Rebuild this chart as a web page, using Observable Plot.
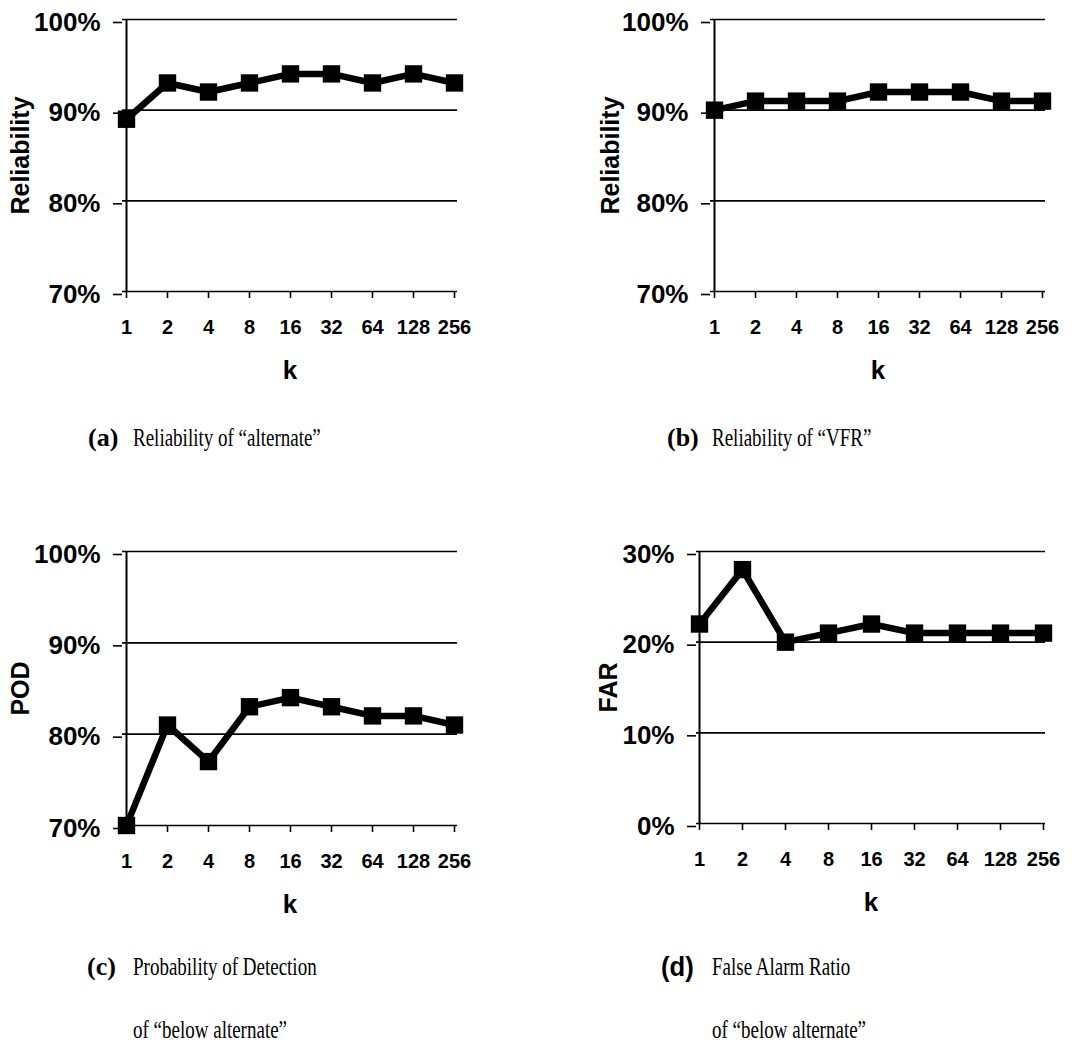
<!DOCTYPE html>
<html>
<head>
<meta charset="utf-8">
<script src="https://cdn.jsdelivr.net/npm/d3@7"></script>
<script src="https://cdn.jsdelivr.net/npm/@observablehq/plot@0.6"></script>
<style>
  body { margin: 0; background: white; }
  #page { position: relative; width: 1086px; height: 1059px; background: white; overflow: hidden; }
  .panel { position: absolute; }
  .cap { position: absolute; font-family: "Liberation Serif", "Times New Roman", serif; font-size: 25px; line-height: 1; white-space: pre; color: black; transform-origin: left center; }
  .cap.txt { transform: scaleX(0.76); }
  .cap.lab { font-weight: bold; font-size: 26px; }
  .cap.sans { font-family: "Liberation Sans", Arial, sans-serif; font-size: 27px; transform: scaleX(0.95); }
</style>
</head>
<body>
<div id="page"></div>
<script>
// ---- data ----
const ks = ["1", "2", "4", "8", "16", "32", "64", "128", "256"];
const reliabilityAlternate = [0.89, 0.93, 0.92, 0.93, 0.94, 0.94, 0.93, 0.94, 0.93];
const reliabilityVFR = [0.90, 0.91, 0.91, 0.91, 0.92, 0.92, 0.92, 0.91, 0.91];
const podBelowAlternate = [0.70, 0.81, 0.77, 0.83, 0.84, 0.83, 0.82, 0.82, 0.81];
const farBelowAlternate = [0.22, 0.28, 0.20, 0.21, 0.22, 0.21, 0.21, 0.21, 0.21];
const ticksHigh = [0.7, 0.8, 0.9, 1.0];
const ticksLow = [0.0, 0.1, 0.2, 0.3];
const yLabels = ["Reliability", "Reliability", "POD", "FAR"];

const page = document.getElementById("page");

function panel({values, ticks, ylabel, left, top, mL, mR, mT, mB, labelX}) {
  const data = ks.map((k, i) => ({k, v: values[i]}));
  const W = 543, H = 400;
  const chart = Plot.plot({
    width: W, height: H,
    marginLeft: mL, marginRight: mR, marginTop: mT, marginBottom: mB,
    style: {fontFamily: "'Liberation Sans', Arial, sans-serif", fontWeight: "bold", background: "transparent", overflow: "visible", color: "black"},
    x: {type: "point", domain: ks, padding: 0},
    y: {domain: [ticks[0], ticks[ticks.length - 1]]},
    marks: [
      Plot.gridY(ticks, {stroke: "black", strokeOpacity: 1, strokeWidth: 1.6}),
      Plot.ruleX([ks[0]], {stroke: "black", strokeWidth: 2}),
      Plot.axisY(ticks, {tickFormat: d3.format(".0%"), tickSize: 9, tickPadding: 13, fontSize: 26, fontWeight: "bold", label: null, dy: 3, stroke: "black", strokeWidth: 1.6}),
      Plot.axisX(ks, {tickSize: 7, tickPadding: 21, fontSize: 20, fontWeight: "bold", label: null, stroke: "black", strokeWidth: 1.6}),
      Plot.line(data, {x: "k", y: "v", stroke: "black", strokeWidth: 6.5, strokeLinejoin: "miter"}),
      Plot.dot(data, {x: "k", y: "v", symbol: "square", r: 9.8, fill: "black", stroke: "none"}),
      Plot.text([ylabel], {frameAnchor: "left", textAnchor: "middle", lineAnchor: "middle", dx: labelX - mL, rotate: -90, fontSize: 25, fontWeight: "bold", fill: "black"}),
      Plot.text(["k"], {frameAnchor: "bottom", textAnchor: "middle", dy: 87, fontSize: 26, fontWeight: "bold", fill: "black"})
    ]
  });
  chart.classList.add("panel");
  chart.style.left = left + "px";
  chart.style.top = top + "px";
  page.appendChild(chart);
}

panel({values: reliabilityAlternate, ticks: ticksHigh, ylabel: yLabels[0], left: 0, top: 0, mL: 122, mR: 86, mT: 19, mB: 109, labelX: 20});
panel({values: reliabilityVFR, ticks: ticksHigh, ylabel: yLabels[1], left: 543, top: 0, mL: 167, mR: 41, mT: 19, mB: 109, labelX: 67});
panel({values: podBelowAlternate, ticks: ticksHigh, ylabel: yLabels[2], left: 0, top: 530, mL: 122, mR: 86, mT: 21, mB: 105, labelX: 20});
panel({values: farBelowAlternate, ticks: ticksLow, ylabel: yLabels[3], left: 543, top: 530, mL: 153, mR: 41, mT: 21, mB: 107, labelX: 65});

function cap(cls, text, x, y) {
  const d = document.createElement("div");
  d.className = "cap " + cls;
  d.textContent = text;
  d.style.left = x + "px";
  d.style.top = y + "px";
  page.appendChild(d);
}
cap("lab", "(a)", 88, 425);
cap("txt", "Reliability of \u201calternate\u201d", 133, 425);
cap("lab", "(b)", 667, 425);
cap("txt", "Reliability of \u201cVFR\u201d", 712, 425);
cap("lab", "(c)", 87, 954);
cap("txt", "Probability of Detection", 133, 954);
cap("txt", "of \u201cbelow alternate\u201d", 133, 1017);
cap("lab sans", "(d)", 661, 954);
cap("txt", "False Alarm Ratio", 712, 954);
cap("txt", "of \u201cbelow alternate\u201d", 712, 1017);
</script>
</body>
</html>
